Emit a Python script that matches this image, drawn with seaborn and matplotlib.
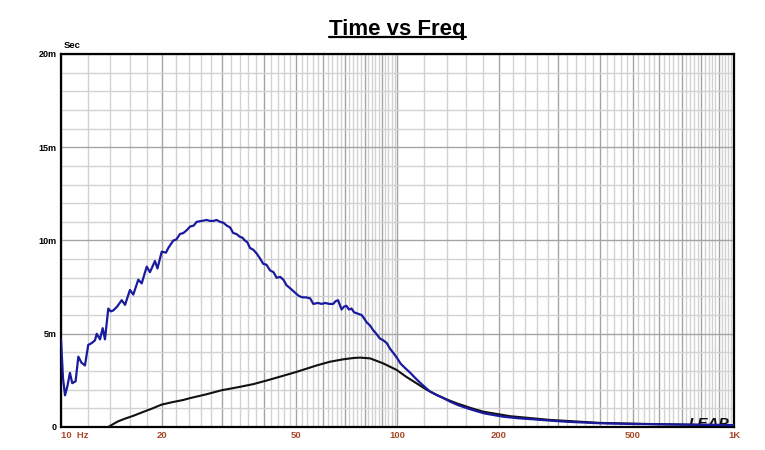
import matplotlib
matplotlib.use("Agg")
import matplotlib.pyplot as plt
from matplotlib.lines import Line2D
from matplotlib.ticker import FixedLocator, NullFormatter
import seaborn as sns
import pandas as pd

# blue trace: measured group delay (Hz, ms)
blue_freq = [10.0, 10.14, 10.28, 10.45, 10.63, 10.80, 11.05, 11.26, 11.5, 11.78, 12.05,
             12.34, 12.62, 12.77, 13.06, 13.30, 13.51, 13.82, 14.05, 14.30, 14.67, 15.15,
             15.50, 16.03, 16.40, 16.97, 17.37, 17.98, 18.38, 19.02, 19.35, 19.92, 20.51,
             20.84, 21.57, 22.0, 22.58, 23.1, 23.63, 24.2, 24.8, 25.3, 26.2, 27.1, 27.7,
             28.36, 29.0, 29.7, 30.4, 31.07, 31.8, 32.5, 33.2, 34.0, 34.6, 35.2, 35.8,
             36.45, 37.3, 38.15, 39.0, 39.9, 40.8, 41.8, 42.8, 43.75, 44.8, 45.8, 46.8,
             47.9, 49.3, 50.7, 51.3, 52.3, 53.5, 55.0, 56.2, 58.0, 59.5, 61.0, 62.7, 64.4,
             65.5, 66.6, 68.2, 69.3, 70.5, 71.7, 73.0, 74.3, 75.6, 77.0, 78.3, 79.7, 81.1,
             82.8, 84.6, 86.5, 88.6, 90.7, 92.9, 95.0, 97.4, 99.7, 102.1, 105.5, 109.2,
             113.0, 117.1, 121.0, 125.0, 130.5, 136.8, 143.3, 151.0, 161.3, 171.0, 181.1,
             193.0, 206.8, 228.0, 254.0, 285.0, 319.6, 360.0, 400.0, 450.0, 504.0, 634.0,
             796.0, 1000.0]
blue_ms = [4.7, 2.6, 1.7, 2.2, 2.9, 2.35, 2.45, 3.77, 3.45, 3.3, 4.4,
           4.5, 4.65, 5.0, 4.7, 5.3, 4.7, 6.35, 6.2, 6.25, 6.45, 6.8,
           6.55, 7.35, 7.1, 7.9, 7.7, 8.6, 8.3, 8.9, 8.5, 9.4, 9.35,
           9.6, 10.0, 10.05, 10.35, 10.4, 10.55, 10.75, 10.8, 11.0, 11.05, 11.1, 11.05,
           11.05, 11.1, 11.0, 10.95, 10.8, 10.7, 10.4, 10.35, 10.2, 10.15, 10.0, 9.9,
           9.6, 9.5, 9.3, 9.05, 8.75, 8.7, 8.4, 8.3, 8.0, 8.05, 7.9, 7.6,
           7.45, 7.25, 7.05, 7.0, 6.95, 6.95, 6.9, 6.6, 6.65, 6.6, 6.65, 6.6, 6.6,
           6.75, 6.8, 6.3, 6.45, 6.5, 6.3, 6.35, 6.15, 6.1, 6.05, 6.0, 5.8, 5.6,
           5.45, 5.2, 5.0, 4.75, 4.65, 4.5, 4.2, 3.95, 3.7, 3.4, 3.15, 2.9,
           2.62, 2.35, 2.12, 1.9, 1.72, 1.55, 1.36, 1.18, 1.0, 0.86, 0.73,
           0.64, 0.55, 0.47, 0.41, 0.34, 0.28, 0.24, 0.2, 0.18, 0.16, 0.14,
           0.12, 0.1]

# black trace: minimum-phase group delay (Hz, ms)
black_freq = [13.82, 14.3, 14.77, 15.5, 16.4, 17.5, 18.6, 19.9, 21.4, 23.1, 24.2, 27.0,
              30.0, 33.5, 37.3, 41.0, 44.8, 50.0, 57.5, 63.0, 69.0, 74.0, 77.4, 82.9,
              90.7, 99.4, 106.0, 114.0, 122.0, 130.8, 140.0, 150.0, 165.0, 179.9, 216.0,
              284.0, 400.0, 563.0, 760.0, 1000.0]
black_ms = [0.0, 0.16, 0.3, 0.45, 0.6, 0.8, 0.98, 1.2, 1.33, 1.45, 1.55, 1.75,
            1.97, 2.13, 2.3, 2.5, 2.7, 2.95, 3.3, 3.5, 3.63, 3.7, 3.72, 3.68,
            3.41, 3.06, 2.7, 2.34, 2.0, 1.72, 1.48, 1.27, 1.02, 0.82, 0.58,
            0.38, 0.22, 0.16, 0.12, 0.1]

x_major = [10, 20, 30, 40, 50, 60, 70, 80, 90, 100,
           200, 300, 400, 500, 600, 700, 800, 900, 1000]
x_labels = {10: "10  Hz", 20: "20", 50: "50", 100: "100", 200: "200", 500: "500", 1000: "1K"}
y_major = [0, 5, 10, 15, 20]
y_labels = ["0", "5m", "10m", "15m", "20m"]

sns.set_theme(style="white")
plt.rcParams["font.family"] = ["Liberation Sans", "DejaVu Sans"]

fig, ax = plt.subplots(figsize=(7.65, 4.5), dpi=100)
fig.subplots_adjust(left=61 / 765, right=734 / 765, top=1 - 54 / 450, bottom=1 - 427 / 450)

df_black = pd.DataFrame({"Freq": black_freq, "Time": black_ms})
df_blue = pd.DataFrame({"Freq": blue_freq, "Time": blue_ms})
sns.lineplot(data=df_black, x="Freq", y="Time", ax=ax, color="#111111", lw=1.5,
             sort=False, estimator=None, zorder=3)
sns.lineplot(data=df_blue, x="Freq", y="Time", ax=ax, color="#1a1a9e", lw=1.6,
             sort=False, estimator=None, zorder=4)

ax.set_xscale("log")
ax.set_xlim(10, 1000)
ax.set_ylim(0, 20)

# grid: every 2 Hz below 100, every 20 Hz above; 1m steps vertically
x_minor = [f for f in range(12, 100, 2) if f % 10] + [f for f in range(120, 1000, 20) if f % 100]
ax.set_xticks(x_major, labels=[x_labels.get(f, "") for f in x_major])
ax.xaxis.set_minor_locator(FixedLocator(x_minor))
ax.xaxis.set_minor_formatter(NullFormatter())
ax.set_yticks(y_major, labels=y_labels)
ax.yaxis.set_minor_locator(FixedLocator([v for v in range(1, 20) if v % 5]))
ax.yaxis.set_minor_formatter(NullFormatter())
ax.grid(which="major", color="#a4a4a4", lw=1.0)
ax.grid(which="minor", color="#d2d2d2", lw=1.0)
ax.set_axisbelow(True)

ax.tick_params(which="both", length=0)
ax.tick_params(axis="y", pad=3, labelsize=6.5, labelcolor="black")
ax.tick_params(axis="x", pad=3, labelsize=6.8, labelcolor="#a8482a")
for lab in ax.get_xticklabels() + ax.get_yticklabels():
    lab.set_fontweight("bold")
ax.get_xticklabels()[0].set_horizontalalignment("left")

for sp in ax.spines.values():
    sp.set_color("black")
    sp.set_linewidth(1.6)

ax.set_xlabel("")
ax.set_ylabel("")
ax.text(0.004, 1.012, "Sec", transform=ax.transAxes, fontsize=6.8, fontweight="bold",
        ha="left", va="bottom", color="black")

# LEAP watermark, half hidden below the axis
ax.text(0.993, 0.028, "LEAP", transform=ax.transAxes, fontsize=11, fontweight="bold",
        fontstyle="italic", ha="right", va="top", color="#111111", zorder=2, clip_on=True)

title = ax.set_title("Time vs Freq", fontsize=16, fontweight="bold", pad=13.7, color="black")

fig.canvas.draw()
bb = title.get_window_extent(fig.canvas.get_renderer())
uy = 1 - 37 / 450
fig.add_artist(Line2D([bb.x0 / 765, bb.x1 / 765], [uy, uy], color="black", lw=1.6,
                      transform=fig.transFigure))

fig.savefig("out.png", dpi=100)
